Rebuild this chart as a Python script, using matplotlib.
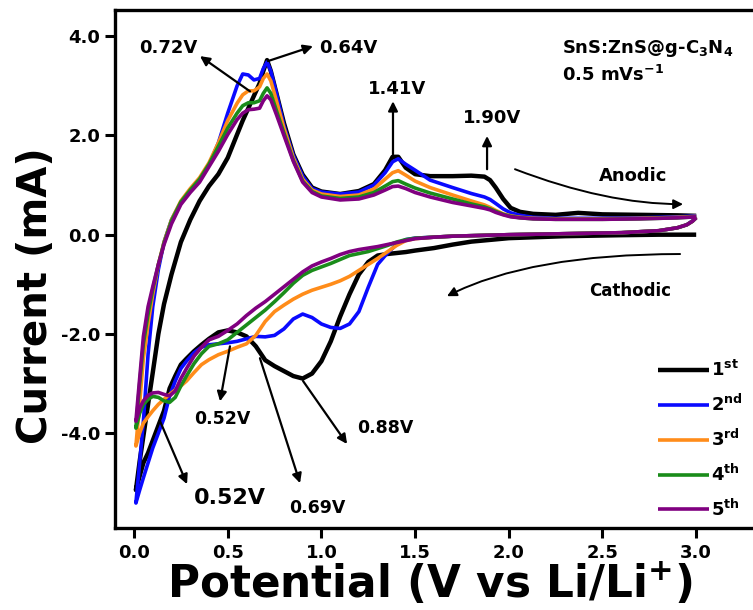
import matplotlib
matplotlib.use("Agg")
import matplotlib.pyplot as plt

plt.rcParams["font.family"] = ["DejaVu Sans"]
plt.rcParams["font.weight"] = "bold"
plt.rcParams["mathtext.fontset"] = "dejavusans"
plt.rcParams["mathtext.default"] = "bf"

# ---- potential grids (V vs Li/Li+) ----
v_anodic = [0.01, 0.03, 0.05, 0.075, 0.1, 0.13, 0.16, 0.2, 0.25, 0.3, 0.35, 0.4,
            0.45, 0.5, 0.55, 0.58, 0.61, 0.64, 0.67, 0.69, 0.71, 0.73, 0.76, 0.8,
            0.85, 0.9, 0.95, 1.0, 1.1, 1.2, 1.28, 1.34, 1.38, 1.41, 1.45, 1.5,
            1.58, 1.7, 1.8, 1.87, 1.9, 1.93, 1.97, 2.01, 2.06, 2.13, 2.25, 2.37,
            2.5, 2.7, 2.9, 3.0]
v_cathodic = [3.0, 2.98, 2.95, 2.9, 2.8, 2.6, 2.3, 2.0, 1.8, 1.7, 1.6, 1.5, 1.45,
              1.4, 1.35, 1.3, 1.25, 1.2, 1.15, 1.1, 1.05, 1.0, 0.95, 0.9, 0.85,
              0.8, 0.75, 0.7, 0.65, 0.6, 0.55, 0.5, 0.45, 0.4, 0.36, 0.32, 0.28,
              0.25, 0.22, 0.19, 0.16, 0.13, 0.1, 0.075, 0.05, 0.03, 0.01]

# ---- current (mA), anodic sweeps ----
i_an_1 = [-5.15, -4.57, -4.06, -3.42, -2.78, -2.0, -1.4, -0.8, -0.15, 0.3, 0.68,
          0.98, 1.22, 1.55, 2.02, 2.3, 2.55, 2.8, 3.05, 3.3, 3.52, 3.3, 2.85,
          2.25, 1.62, 1.21, 0.95, 0.87, 0.82, 0.88, 1.02, 1.3, 1.57, 1.57, 1.35,
          1.22, 1.18, 1.18, 1.19, 1.17, 1.1, 0.95, 0.72, 0.54, 0.46, 0.42, 0.40,
          0.44, 0.41, 0.40, 0.39, 0.38]
i_an_2 = [-5.41, -4.6, -3.76, -2.41, -1.45, -0.7, -0.15, 0.3, 0.66, 0.9, 1.1,
          1.4, 1.85, 2.45, 3.0, 3.24, 3.22, 3.12, 3.15, 3.35, 3.48, 3.3, 2.85,
          2.2, 1.6, 1.18, 0.93, 0.86, 0.82, 0.86, 1.0, 1.25, 1.47, 1.53, 1.42,
          1.3, 1.1, 0.95, 0.83, 0.76, 0.71, 0.63, 0.52, 0.44, 0.39, 0.35, 0.33,
          0.33, 0.33, 0.34, 0.36, 0.38]
i_an_3 = [-4.26, -3.4, -2.5, -1.8, -1.2, -0.6, -0.15, 0.3, 0.68, 0.93, 1.15,
          1.45, 1.85, 2.3, 2.65, 2.82, 2.9, 2.9, 2.98, 3.15, 3.24, 3.1, 2.7,
          2.15, 1.55, 1.12, 0.9, 0.82, 0.77, 0.8, 0.92, 1.12, 1.25, 1.29, 1.2,
          1.08, 0.95, 0.8, 0.68, 0.6, 0.55, 0.49, 0.42, 0.38, 0.35, 0.33, 0.32,
          0.32, 0.32, 0.33, 0.35, 0.37]
i_an_4 = [-3.9, -3.0, -2.2, -1.6, -1.1, -0.6, -0.17, 0.28, 0.66, 0.9, 1.12,
          1.42, 1.78, 2.15, 2.45, 2.6, 2.66, 2.66, 2.7, 2.85, 2.96, 2.85, 2.5,
          2.05, 1.5, 1.08, 0.87, 0.78, 0.73, 0.76, 0.85, 0.98, 1.07, 1.09, 1.02,
          0.94, 0.84, 0.72, 0.62, 0.56, 0.52, 0.47, 0.41, 0.37, 0.34, 0.32, 0.31,
          0.31, 0.31, 0.32, 0.34, 0.36]
i_an_5 = [-3.76, -2.9, -2.05, -1.45, -1.05, -0.6, -0.2, 0.22, 0.61, 0.85, 1.06,
          1.37, 1.68, 2.02, 2.32, 2.45, 2.52, 2.53, 2.55, 2.7, 2.8, 2.72, 2.42,
          2.0, 1.48, 1.06, 0.85, 0.76, 0.7, 0.72, 0.8, 0.9, 0.97, 0.98, 0.93,
          0.85, 0.76, 0.65, 0.58, 0.53, 0.5, 0.45, 0.4, 0.36, 0.34, 0.32, 0.31,
          0.31, 0.31, 0.32, 0.34, 0.36]

# ---- current (mA), cathodic sweeps ----
i_ca_1 = [0.0, 0.0, 0.0, 0.0, 0.0, -0.01, -0.03, -0.07, -0.14, -0.2, -0.27,
          -0.32, -0.35, -0.37, -0.39, -0.42, -0.55, -0.8, -1.2, -1.65, -2.15,
          -2.55, -2.8, -2.9, -2.85, -2.75, -2.65, -2.53, -2.25, -2.05, -1.97,
          -1.93, -1.97, -2.1, -2.22, -2.35, -2.5, -2.62, -2.85, -3.1, -3.55,
          -3.85, -4.15, -4.4, -4.6, -4.87, -5.15]
i_ca_2 = [0.36, 0.28, 0.2, 0.14, 0.08, 0.04, 0.02, 0.0, -0.02, -0.03, -0.05,
          -0.07, -0.1, -0.2, -0.38, -0.6, -1.06, -1.55, -1.8, -1.89, -1.87,
          -1.8, -1.67, -1.6, -1.7, -1.9, -2.03, -2.06, -2.05, -2.1, -2.15,
          -2.18, -2.2, -2.22, -2.27, -2.38, -2.55, -2.7, -2.95, -3.25, -3.7,
          -4.0, -4.3, -4.6, -4.9, -5.15, -5.41]
i_ca_3 = [0.35, 0.27, 0.2, 0.14, 0.08, 0.04, 0.02, 0.0, -0.02, -0.03, -0.05,
          -0.08, -0.12, -0.22, -0.35, -0.48, -0.6, -0.72, -0.84, -0.93, -1.0,
          -1.06, -1.12, -1.2, -1.3, -1.42, -1.55, -1.75, -2.03, -2.2, -2.27,
          -2.35, -2.42, -2.52, -2.62, -2.78, -2.95, -3.05, -3.13, -3.22, -3.32,
          -3.42, -3.55, -3.67, -3.8, -4.0, -4.26]
i_ca_4 = [0.34, 0.27, 0.2, 0.14, 0.08, 0.04, 0.02, 0.0, -0.02, -0.03, -0.05,
          -0.07, -0.1, -0.15, -0.22, -0.28, -0.34, -0.38, -0.42, -0.5, -0.58,
          -0.65, -0.72, -0.82, -0.98, -1.17, -1.35, -1.52, -1.67, -1.82, -1.97,
          -2.12, -2.2, -2.25, -2.4, -2.6, -2.85, -3.05, -3.28, -3.38, -3.35,
          -3.28, -3.26, -3.32, -3.42, -3.6, -3.9]
i_ca_5 = [0.34, 0.27, 0.2, 0.14, 0.08, 0.04, 0.02, 0.0, -0.02, -0.03, -0.05,
          -0.08, -0.12, -0.16, -0.2, -0.24, -0.27, -0.3, -0.34, -0.4, -0.48,
          -0.55, -0.63, -0.75, -0.9, -1.05, -1.2, -1.35, -1.48, -1.63, -1.8,
          -1.93, -2.05, -2.12, -2.27, -2.45, -2.7, -2.9, -3.15, -3.25, -3.22,
          -3.18, -3.19, -3.24, -3.35, -3.5, -3.76]

cycle_labels = [r"1$^{st}$", r"2$^{nd}$", r"3$^{rd}$", r"4$^{th}$", r"5$^{th}$"]
cycle_colors = ["#000000", "#0a0aff", "#ff8c1a", "#1a8c1a", "#800080"]
cycle_widths = [3.2, 2.6, 2.6, 2.6, 2.6]
anodic = [i_an_1, i_an_2, i_an_3, i_an_4, i_an_5]
cathodic = [i_ca_1, i_ca_2, i_ca_3, i_ca_4, i_ca_5]

fig = plt.figure(figsize=(7.53, 6.10), dpi=100)
ax = fig.add_axes([0.1531, 0.1339, 0.8710, 0.8489])

for lab, col, lw, i_ca, i_an in zip(cycle_labels, cycle_colors, cycle_widths,
                                    cathodic, anodic):
    # each cycle: cathodic sweep 3.0 -> 0.01 V, then anodic sweep back to 3.0 V
    ax.plot(v_cathodic + v_anodic, i_ca + i_an, color=col, lw=lw,
            solid_joinstyle="round", solid_capstyle="butt", label=lab)

ax.set_xlim(-0.1, 3.4)
ax.set_ylim(-5.92, 4.52)
ax.set_xticks([0.0, 0.5, 1.0, 1.5, 2.0, 2.5, 3.0])
ax.set_yticks([-4.0, -2.0, 0.0, 2.0, 4.0])
ax.xaxis.set_major_formatter(matplotlib.ticker.FormatStrFormatter("%.1f"))
ax.yaxis.set_major_formatter(matplotlib.ticker.FormatStrFormatter("%.1f"))
ax.tick_params(direction="out", length=7, width=2.2, labelsize=13, pad=4)
for side in ["left", "bottom", "top", "right"]:
    ax.spines[side].set_linewidth(2.4)

fig.text(430 / 753, 1 - 584 / 610, r"Potential (V vs Li/Li$^{+}$)",
         fontsize=31.5, fontweight="bold", ha="center", va="center")
fig.text(36 / 753, 1 - 296 / 610, "Current (mA)", rotation=90,
         fontsize=29, fontweight="bold", ha="center", va="center")

# peak annotations
arrow_kw = dict(arrowstyle="-|>", color="k", lw=1.6, mutation_scale=14,
                shrinkA=0, shrinkB=0)
peak_notes = [
    ("0.72V", (0.18, 3.76), (0.619, 2.89), (0.352, 3.60), 13),
    ("0.64V", (1.142, 3.76), (0.715, 3.50), (0.955, 3.80), 13),
    ("1.41V", (1.403, 2.93), (1.382, 1.62), (1.382, 2.69), 13),
    ("1.90V", (1.91, 2.35), (1.884, 1.32), (1.884, 1.99), 13),
    ("0.52V", (0.47, -3.72), (0.512, -2.25), (0.459, -3.36), 12.5),
    ("0.52V", (0.512, -5.31), (0.139, -3.76), (0.283, -5.03), 16),
    ("0.69V", (0.977, -5.51), (0.672, -2.49), (0.886, -5.01), 12.5),
    ("0.88V", (1.34, -3.90), (0.902, -2.95), (1.137, -4.22), 12.5),
]
for txt, tpos, tail, head, fs in peak_notes:
    ax.text(tpos[0], tpos[1], txt, fontsize=fs, fontweight="bold",
            ha="center", va="center")
    ax.annotate("", xy=head, xytext=tail, arrowprops=arrow_kw)

# sweep direction arrows
ax.annotate("", xy=(2.93, 0.615), xytext=(2.033, 1.32),
            arrowprops=dict(arrowstyle="-|>", color="k", lw=1.4,
                            mutation_scale=14, shrinkA=0, shrinkB=0,
                            connectionstyle="angle3,angleA=-21,angleB=0"))
ax.text(2.663, 1.18, "Anodic", fontsize=13, fontweight="bold",
        ha="center", va="center")
ax.annotate("", xy=(1.67, -1.24), xytext=(2.914, -0.39),
            arrowprops=dict(arrowstyle="-|>", color="k", lw=1.4,
                            mutation_scale=14, shrinkA=0, shrinkB=0,
                            connectionstyle="angle3,angleA=0,angleB=27"))
ax.text(2.647, -1.14, "Cathodic", fontsize=12, fontweight="bold",
        ha="center", va="center")

ax.text(2.284, 3.76, r"SnS:ZnS@g-C$_3$N$_4$", fontsize=13, fontweight="bold",
        ha="left", va="center")
ax.text(2.284, 3.22, r"0.5 mVs$^{-1}$", fontsize=13, fontweight="bold",
        ha="left", va="center")

leg = ax.legend(loc="upper left", bbox_to_anchor=(658 / 753, 1 - 360 / 610),
                bbox_transform=fig.transFigure, frameon=False, fontsize=13,
                handlelength=2.8, handletextpad=0.15, labelspacing=0.76,
                borderpad=0, borderaxespad=0)
for t in leg.get_texts():
    t.set_fontweight("bold")

fig.savefig("out.png", dpi=100)
